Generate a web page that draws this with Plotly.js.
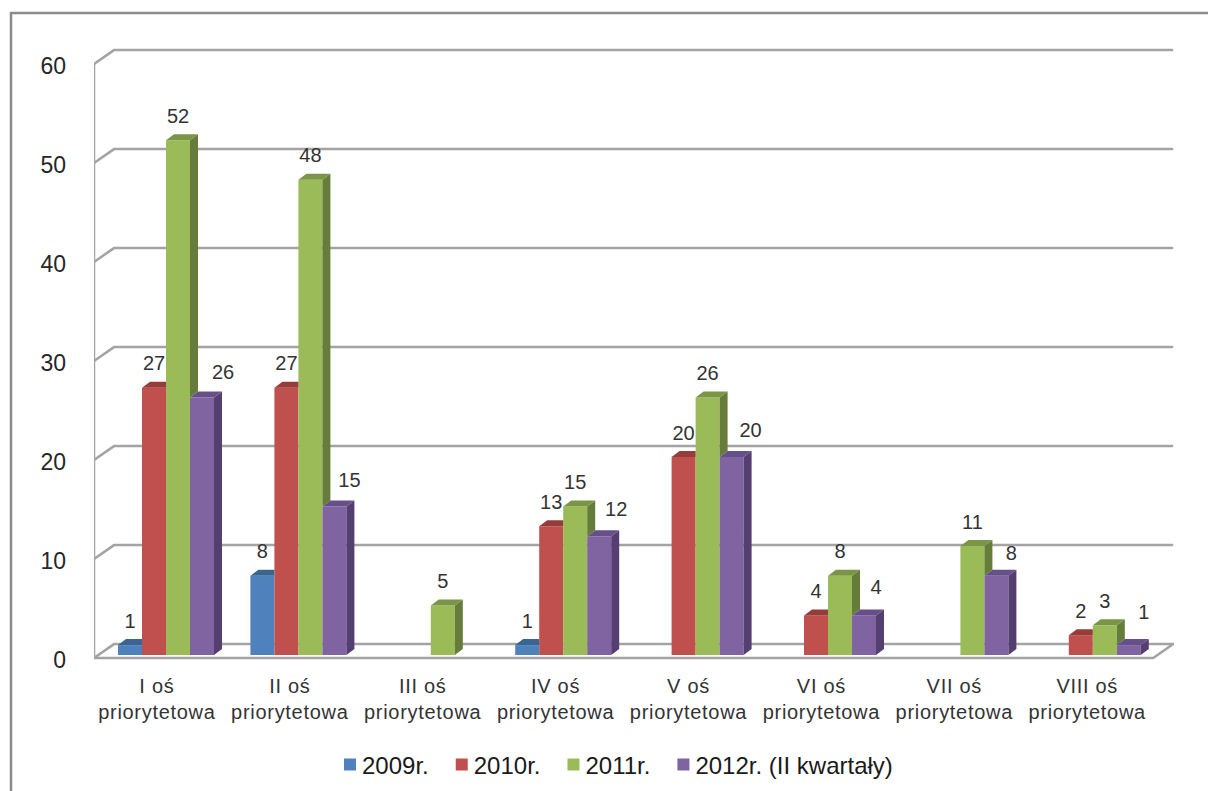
<!DOCTYPE html>
<html><head><meta charset="utf-8">
<script src="https://cdn.plot.ly/plotly-3.0.1.min.js"></script>
<style>html,body{margin:0;padding:0;background:#fff;overflow:hidden}#c{width:1208px;height:791px}
.xtick text{letter-spacing:.7px}
.legend .legendpoints{transform:translateX(8px)}
</style>
</head><body><div id="c"></div>
<script>
const categories = ["I oś<br>priorytetowa","II oś<br>priorytetowa","III oś<br>priorytetowa","IV oś<br>priorytetowa","V oś<br>priorytetowa","VI oś<br>priorytetowa","VII oś<br>priorytetowa","VIII oś<br>priorytetowa"];
const seriesNames = ["2009r.","2010r.","2011r.","2012r. (II kwartały)"];
const v2009 = [1,8,null,1,null,null,null,null];
const v2010 = [27,27,null,13,20,4,null,2];
const v2011 = [52,48,5,15,26,8,11,3];
const v2012 = [26,15,null,12,20,4,8,1];
const yTicks = [0,10,20,30,40,50,60];

const front = ["#4F81BD","#C0504D","#9BBB59","#8064A2"];
const topC  = ["#3B6591","#963C39","#7A9545","#66508A"];
const sideC = ["#34597F","#7F3330","#667C3A","#553F70"];
const series = [v2009,v2010,v2011,v2012];

// pixel geometry of the plot
const W=1208,H=791,L=94,T=0,plotB=662,pxX=132.4,pxY=9.9,basePx=655;
const xRange=[0,(1174-L)/pxX], yRange=[(basePx-plotB)/pxY,(basePx-T)/pxY];
const bw=24/pxX, gc=(166-L)/pxX, dx=8/pxX, dv=6/pxY;
const left=(i,s)=>i+gc+(s-2)*bw;
const px=p=>(p-L)/(1174-L), py=p=>(plotB-p)/(plotB-T);

const traces=[];
series.forEach((vals,s)=>{
  traces.push({type:"bar",name:seriesNames[s],x:categories.map((_,i)=>i+gc),y:vals,
    marker:{color:front[s],line:{width:0}},hoverinfo:"name+y"});
});
series.forEach((vals,s)=>{
  const sx=[],sy=[],tx=[],ty=[];
  vals.forEach((v,i)=>{
    if(v==null) return;
    const l=left(i,s), r=l+bw;
    const n=(s<3&&series[s+1][i]!=null)?series[s+1][i]:0;
    if(v>n){
      sx.push(r,r+dx,r+dx,r,r,null); sy.push(v,v+dv,n+dv,n,v,null);
      tx.push(l,r,r+dx,l+dx,l,null); ty.push(v,v,v+dv,v+dv,v,null);
    } else {
      tx.push(l,r,r,l+dx,l,null); ty.push(v,v,v+dv,v+dv,v,null);
    }
  });
  traces.push({type:"scatter",mode:"lines",x:sx,y:sy,fill:"toself",fillcolor:sideC[s],line:{width:0,color:sideC[s]},showlegend:false,hoverinfo:"skip"});
  traces.push({type:"scatter",mode:"lines",x:tx,y:ty,fill:"toself",fillcolor:topC[s],line:{width:0,color:topC[s]},showlegend:false,hoverinfo:"skip"});
});
// data labels (the last series' labels sit to the right of their bars in the reference)
const shift2012x=[21,15,0,17,19,12,15,15], lift2012=[24,25,0,25.5,25,26,21,31];
series.forEach((vals,s)=>{
  const xs=[],ys=[],ts=[];
  vals.forEach((v,i)=>{
    if(v==null) return;
    const sh=s===3?shift2012x[i]:0, lift=s===3?lift2012[i]:22.5;
    xs.push(left(i,s)+bw/2+sh/pxX); ys.push(v+lift/pxY); ts.push(String(v));
  });
  traces.push({type:"scatter",mode:"text",x:xs,y:ys,text:ts,textposition:"middle center",
    textfont:{family:"Liberation Sans",size:20,color:"#333333"},showlegend:false,hoverinfo:"skip",cliponaxis:false});
});

const grey="#A3A3A3";
const shapes=[];
const fr=-0.3, bk=1.1, d=20/pxX, xEnd=8;
yTicks.forEach(t=>{
  if(t===0) return;
  shapes.push({type:"path",xref:"x",yref:"y",layer:"below",
    path:`M0,${t+fr} L${d},${t+bk} L${xEnd+d},${t+bk}`,line:{color:grey,width:2.5}});
});
shapes.push({type:"path",xref:"x",yref:"y",layer:"below",
  path:`M0,${60+fr} L0,${fr} L${d},${bk} L${xEnd+d},${bk} L${xEnd},${fr} L0,${fr}`,line:{color:grey,width:2.5}});
shapes.push({type:"path",xref:"paper",yref:"paper",layer:"below",
  path:`M${px(11)},${py(800)} L${px(11)},${py(13)} L${px(1215)},${py(13)}`,line:{color:"#8C8C8C",width:2.5}});

const layout={
  width:W,height:H,paper_bgcolor:"#fff",plot_bgcolor:"rgba(0,0,0,0)",
  margin:{l:L,r:W-1174,t:T,b:H-plotB,pad:0},
  barmode:"group",bargap:1-4*bw,bargroupgap:0,
  font:{family:"Liberation Sans",color:"#262626"},
  xaxis:{type:"linear",range:xRange,tickmode:"array",tickvals:categories.map((_,i)=>0.475+i*132.9/pxX),ticktext:categories,
    showgrid:false,zeroline:false,showline:false,ticks:"",tickangle:0,tickfont:{size:20,color:"#333333"},ticklabelstandoff:10},
  yaxis:{range:yRange,tickmode:"array",tickvals:yTicks.map(t=>t-0.5),ticktext:yTicks.map(String),
    showgrid:false,zeroline:false,showline:false,ticks:"",tickfont:{size:23,color:"#262626"},ticklabelstandoff:27},
  legend:{orientation:"h",x:px(322),xanchor:"left",y:py(765),yanchor:"middle",
    font:{size:24,color:"#1a1a1a"},itemwidth:30,traceorder:"normal"},
  shapes:shapes,showlegend:true
};
Plotly.newPlot("c",traces,layout,{displayModeBar:false});
</script></body></html>
